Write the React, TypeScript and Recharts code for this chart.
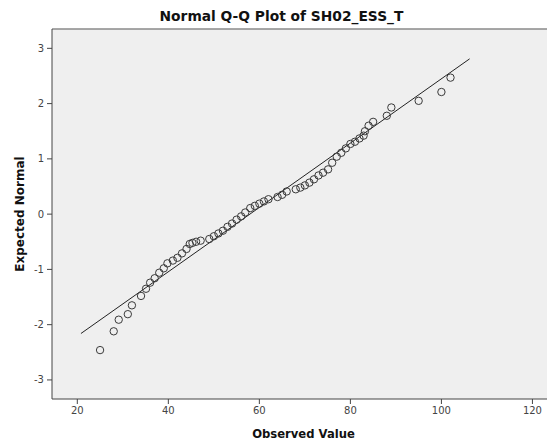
import {
  CartesianGrid,
  ReferenceLine,
  Scatter,
  ScatterChart,
  XAxis,
  YAxis,
} from "recharts";

const observed = [
  25, 28, 29.1, 31.1, 32, 34, 35.1, 36, 37, 38, 39, 39.8, 41, 42, 43, 44, 44.7,
  45.3, 46.1, 47.1, 49, 50, 51, 52, 53, 54, 55, 56, 56.9, 58, 59, 60, 61, 62, 64,
  65, 66, 68, 69, 70, 71, 72, 73, 74, 75.1, 76, 77, 78, 79, 80, 81, 82, 82.9, 83.2,
  84, 85, 88, 89, 95, 100, 102,
];
const expected = [
  -2.46, -2.12, -1.91, -1.81, -1.65, -1.48, -1.35, -1.24, -1.16, -1.06, -0.98,
  -0.89, -0.84, -0.79, -0.71, -0.63, -0.54, -0.52, -0.5, -0.48, -0.45, -0.4,
  -0.35, -0.3, -0.23, -0.17, -0.1, -0.04, 0.03, 0.11, 0.15, 0.19, 0.23, 0.27,
  0.31, 0.35, 0.41, 0.45, 0.48, 0.52, 0.57, 0.63, 0.7, 0.75, 0.81, 0.93, 1.04,
  1.11, 1.19, 1.27, 1.31, 1.37, 1.42, 1.5, 1.6, 1.67, 1.78, 1.93, 2.05, 2.21, 2.47,
];

// ends of the fitted normal line
const fitX = [20.8, 106.2];
const fitY = [-2.16, 2.81];

const xTicks = [20, 40, 60, 80, 100, 120];
const yTicks = [-3, -2, -1, 0, 1, 2, 3];

const points = observed.map((x, i) => ({ x, y: expected[i] }));
const fitLine = fitX.map((x, i) => ({ x, y: fitY[i] }));

const font = "'DejaVu Sans', Verdana, sans-serif";
const X_DOMAIN: [number, number] = [14.44, 123.2];
const Y_DOMAIN: [number, number] = [-3.345, 3.35];

const Ring = (props: any) => (
  <circle
    cx={props.cx}
    cy={props.cy}
    r={3.7}
    fill="none"
    stroke="#3a3a3a"
    strokeWidth={1}
  />
);

export default function App() {
  return (
    <div
      style={{
        position: "absolute",
        left: 0,
        top: 0,
        width: 547,
        height: 444,
        background: "#fff",
        fontFamily: font,
      }}
    >
      <div
        style={{
          position: "absolute",
          left: 0,
          width: 563,
          top: 8,
          textAlign: "center",
          fontSize: 13.8,
          lineHeight: "16px",
          fontWeight: "bold",
          color: "#111",
        }}
      >
        Normal Q-Q Plot of SH02_ESS_T
      </div>
      <ScatterChart
        width={547}
        height={444}
        margin={{ top: 29, right: 0, bottom: 0, left: 0 }}
      >
        <CartesianGrid fill="#efefef" stroke="none" />
        <XAxis
          type="number"
          dataKey="x"
          domain={X_DOMAIN}
          ticks={xTicks}
          allowDataOverflow
          height={45}
          tickSize={5}
          tickMargin={3}
          tick={{ fontSize: 10, fill: "#444", fontFamily: font }}
          stroke="#444"
          label={(p: any) => (
            <text
              x={p.viewBox.x + p.viewBox.width / 2 + 4}
              y={p.viewBox.y + 39}
              textAnchor="middle"
              fontSize={11.6}
              fontWeight="bold"
              fill="#111"
              fontFamily={font}
            >
              Observed Value
            </text>
          )}
        />
        <YAxis
          type="number"
          dataKey="y"
          domain={Y_DOMAIN}
          ticks={yTicks}
          allowDataOverflow
          width={52}
          tickSize={5}
          tickMargin={3}
          tick={{ fontSize: 10, fill: "#444", fontFamily: font }}
          stroke="#444"
          label={(p: any) => {
            const cx = p.viewBox.x + 20;
            const cy = p.viewBox.y + p.viewBox.height / 2;
            return (
              <text
                x={cx}
                y={cy}
                transform={`rotate(-90 ${cx} ${cy})`}
                textAnchor="middle"
                dominantBaseline="central"
                fontSize={12}
                fontWeight="bold"
                fill="#111"
                fontFamily={font}
              >
                Expected Normal
              </text>
            );
          }}
        />
        <ReferenceLine y={Y_DOMAIN[1]} stroke="#8a8a8a" strokeWidth={1.5} />
        <Scatter
          data={fitLine}
          line={{ stroke: "#222", strokeWidth: 1 }}
          shape={() => <g />}
          isAnimationActive={false}
        />
        <Scatter data={points} shape={Ring} isAnimationActive={false} />
      </ScatterChart>
    </div>
  );
}
